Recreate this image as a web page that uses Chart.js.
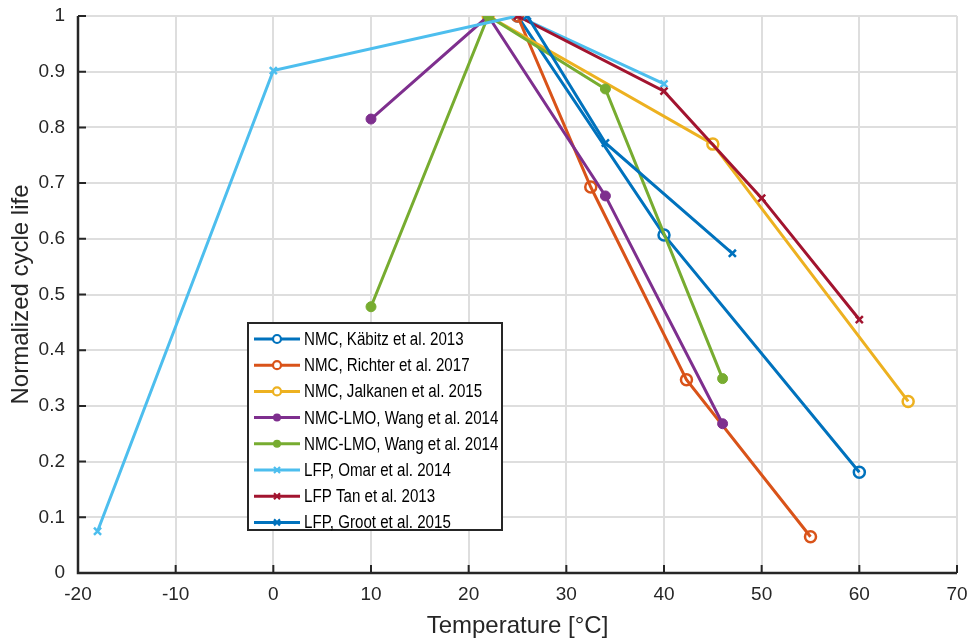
<!DOCTYPE html>
<html lang="en">
<head>
<meta charset="UTF-8" />
<script src="https://cdn.jsdelivr.net/npm/chart.js"></script>
<title>Normalized cycle life vs temperature</title>
<style>
  html, body { margin: 0; padding: 0; background: #fff; }
</style>
</head>
<body>
<canvas id="lifeChart" width="970" height="641"></canvas>

<script>
  // cycle life data, temperature in degC
  const kabitzT = [25, 40, 60];
  const kabitzLife = [1, 0.607, 0.181];
  const richterT = [25, 32.5, 42.3, 55];
  const richterLife = [1, 0.693, 0.347, 0.065];
  const jalkanenT = [22, 45, 65];
  const jalkanenLife = [1, 0.77, 0.308];
  const wangAT = [10, 22, 34, 46];
  const wangALife = [0.815, 1, 0.677, 0.268];
  const wangBT = [10, 22, 34, 46];
  const wangBLife = [0.478, 1, 0.869, 0.349];
  const omarT = [-18, 0, 25, 40];
  const omarLife = [0.075, 0.902, 1, 0.878];
  const tanT = [25, 40, 50, 60];
  const tanLife = [1, 0.865, 0.673, 0.455];
  const grootT = [26, 34, 47];
  const grootLife = [1, 0.772, 0.574];

  const seriesLabels = [
    'NMC, Käbitz et al. 2013',
    'NMC, Richter et al. 2017',
    'NMC, Jalkanen et al. 2015',
    'NMC-LMO, Wang et al. 2014',
    'NMC-LMO, Wang et al. 2014',
    'LFP, Omar et al. 2014',
    'LFP Tan et al. 2013',
    'LFP, Groot et al. 2015'
  ];
  const seriesT = [kabitzT, richterT, jalkanenT, wangAT, wangBT, omarT, tanT, grootT];
  const seriesLife = [kabitzLife, richterLife, jalkanenLife, wangALife, wangBLife, omarLife, tanLife, grootLife];
  const seriesColors = ['#0072BD', '#D95319', '#EDB120', '#7E2F8E', '#77AC30', '#4DBEEE', '#A2142F', '#0072BD'];
  const seriesMarkers = ['o', 'o', 'o', '.', '.', 'x', 'x', 'x'];

  const xTicks = [-20, -10, 0, 10, 20, 30, 40, 50, 60, 70];
  const yTicks = [0, 0.1, 0.2, 0.3, 0.4, 0.5, 0.6, 0.7, 0.8, 0.9, 1];

  const FONT = '"Liberation Sans", Arial, Helvetica, sans-serif';
  const AXIS = '#262626';

  function markerStyle(m, color) {
    if (m === 'o') return { pointStyle: 'circle', radius: 5.5, bg: 'rgba(0,0,0,0)', bw: 2.5 };
    if (m === '.') return { pointStyle: 'circle', radius: 5, bg: color, bw: 1 };
    return { pointStyle: 'crossRot', radius: 5, bg: color, bw: 2.5 };
  }

  const datasets = seriesLabels.map((label, i) => {
    const ms = markerStyle(seriesMarkers[i], seriesColors[i]);
    return {
      label: label,
      data: seriesT[i].map((t, k) => ({ x: t, y: seriesLife[i][k] })),
      borderColor: seriesColors[i],
      backgroundColor: seriesColors[i],
      borderWidth: 3,
      pointStyle: ms.pointStyle,
      pointRadius: ms.radius,
      pointBorderWidth: ms.bw,
      pointBackgroundColor: ms.bg,
      pointBorderColor: seriesColors[i],
      tension: 0,
      order: seriesLabels.length - i  // later series on top
    };
  });

  // axis lines with inward ticks
  const axesBox = {
    id: 'axesBox',
    afterDatasetsDraw(chart) {
      const { ctx, chartArea: a, scales } = chart;
      ctx.save();
      ctx.strokeStyle = AXIS;
      ctx.lineWidth = 2.5;
      ctx.beginPath();
      ctx.moveTo(a.left, a.top);
      ctx.lineTo(a.left, a.bottom);
      ctx.lineTo(a.right, a.bottom);
      ctx.stroke();
      ctx.lineWidth = 2;
      ctx.beginPath();
      xTicks.forEach(v => {
        const px = scales.x.getPixelForValue(v);
        ctx.moveTo(px, a.bottom);
        ctx.lineTo(px, a.bottom - 8);
      });
      yTicks.forEach(v => {
        const py = scales.y.getPixelForValue(v);
        ctx.moveTo(a.left, py);
        ctx.lineTo(a.left + 8, py);
      });
      ctx.stroke();
      ctx.restore();
    }
  };

  // boxed legend placed inside the plot
  const boxLegend = {
    id: 'boxLegend',
    afterDraw(chart) {
      const { ctx } = chart;
      const left = 248, top = 323, w = 254, h = 207;
      const rowH = 26.2, firstRow = 339;
      ctx.save();
      ctx.fillStyle = '#fff';
      ctx.fillRect(left, top, w, h);
      ctx.strokeStyle = AXIS;
      ctx.lineWidth = 2;
      ctx.strokeRect(left, top, w, h);
      ctx.font = '18px ' + FONT;
      ctx.textBaseline = 'middle';
      chart.data.datasets.forEach((ds, i) => {
        const y = firstRow + i * rowH;
        ctx.strokeStyle = ds.borderColor;
        ctx.lineWidth = 3;
        ctx.beginPath();
        ctx.moveTo(254, y);
        ctx.lineTo(300, y);
        ctx.stroke();
        const m = seriesMarkers[i];
        ctx.lineWidth = 2.2;
        if (m === 'o') {
          ctx.fillStyle = '#fff';
          ctx.beginPath();
          ctx.arc(277, y, 4, 0, Math.PI * 2);
          ctx.fill();
          ctx.stroke();
        } else if (m === '.') {
          ctx.fillStyle = ds.borderColor;
          ctx.beginPath();
          ctx.arc(277, y, 4, 0, Math.PI * 2);
          ctx.fill();
        } else {
          ctx.beginPath();
          ctx.moveTo(274, y - 3); ctx.lineTo(280, y + 3);
          ctx.moveTo(274, y + 3); ctx.lineTo(280, y - 3);
          ctx.stroke();
        }
        // slightly condensed text
        ctx.save();
        ctx.translate(304, y + 1);
        ctx.scale(0.84, 1);
        ctx.fillStyle = '#000';
        ctx.fillText(ds.label, 0, 0);
        ctx.restore();
      });
      ctx.restore();
    }
  };

  new Chart(document.getElementById('lifeChart'), {
    type: 'line',
    data: { datasets: datasets },
    plugins: [axesBox, boxLegend],
    options: {
      responsive: false,
      animation: false,
      layout: { padding: { top: 16, right: 13, left: 0, bottom: 0 } },
      plugins: { legend: { display: false }, tooltip: { enabled: false } },
      scales: {
        x: {
          type: 'linear',
          min: -20,
          max: 70,
          afterBuildTicks: s => { s.ticks = xTicks.map(v => ({ value: v })); },
          afterFit: s => { s.height = 68; s.paddingLeft = 0; s.paddingRight = 0; },
          grid: { color: '#dedede', lineWidth: 2, drawTicks: false },
          border: { display: false },
          ticks: {
            padding: 10,
            color: AXIS,
            font: { family: FONT, size: 19 },
            maxRotation: 0
          },
          title: {
            display: true,
            text: 'Temperature [°C]',
            color: AXIS,
            font: { family: FONT, size: 24 },
            padding: { top: 0, bottom: 0 }
          }
        },
        y: {
          type: 'linear',
          min: 0,
          max: 1,
          afterBuildTicks: s => { s.ticks = yTicks.map(v => ({ value: v })); },
          afterFit: s => { s.width = 78; s.paddingTop = 0; s.paddingBottom = 0; },
          grid: { color: '#dedede', lineWidth: 2, drawTicks: false },
          border: { display: false },
          ticks: {
            padding: 13,
            color: AXIS,
            font: { family: FONT, size: 19 },
            callback: v => String(Math.round(v * 10) / 10)
          },
          title: {
            display: true,
            text: 'Normalized cycle life',
            color: AXIS,
            font: { family: FONT, size: 24 },
            padding: { top: 7, bottom: 0 }
          }
        }
      }
    }
  });
</script>
</body>
</html>
